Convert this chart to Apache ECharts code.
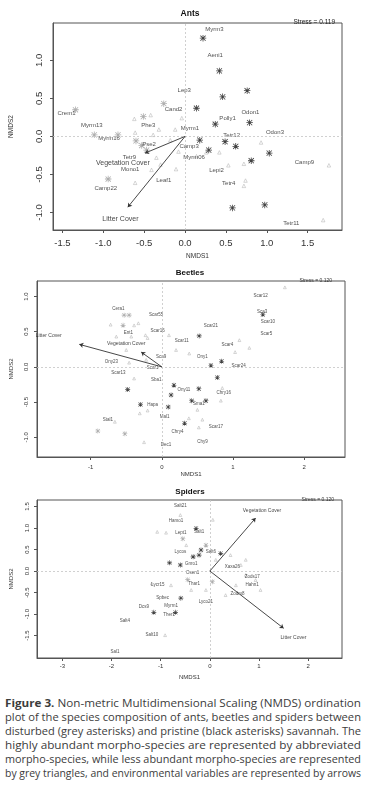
<!DOCTYPE html>
<html>
<head>
<meta charset="utf-8">
<script src="https://cdn.jsdelivr.net/npm/echarts@6/dist/echarts.min.js"></script>
<style>
html, body { margin: 0; padding: 0; background: #fff; }
#chart { position: absolute; left: 0; top: 0; width: 370px; height: 690px; }
#caption { position: absolute; left: 5px; top: 696px; width: 356px; font-family: 'Open Sans', sans-serif; font-size: 11px; line-height: 14.1px; color: #3c3c3c; }
#caption .ln { height: 14.1px; }
#caption span { display: inline-block; white-space: nowrap; transform-origin: 0 50%; }
</style>
</head>
<body>
<div id="chart"></div>
<div id="caption">
  <div class="ln"><span><b>Figure 3.</b> Non-metric Multidimensional Scaling (NMDS) ordination</span></div>
  <div class="ln"><span>plot of the species composition of ants, beetles and spiders between</span></div>
  <div class="ln"><span>disturbed (grey asterisks) and pristine (black asterisks) savannah. The</span></div>
  <div class="ln"><span>highly abundant morpho-species are represented by abbreviated</span></div>
  <div class="ln"><span>morpho-species, while less abundant morpho-species are represented</span></div>
  <div class="ln"><span>by grey triangles, and environmental variables are represented by arrows</span></div>
</div>
<script>
// ---------- Ants ----------
const antsPristine = [[0.22,1.29],[0.42,0.86],[0.46,0.52],[0.76,0.60],[0.14,0.37],[0.79,0.18],[0.37,0.16],
  [0.49,-0.07],[0.62,-0.13],[1.03,-0.22],[0.18,-0.05],[0.29,-0.18],[0.81,-0.32],[0.58,-0.94],[0.975,-0.90]];
const antsDisturbed = [[-1.34,0.35],[-0.26,0.43],[-0.51,0.26],[-1.11,0.02],[-0.82,0.02],[-0.94,-0.56],
  [-0.53,-0.12],[-0.47,-0.18],[-0.60,-0.06]];
const antsMinor = [[-0.62,0.23],[-0.42,0.28],[-0.61,0.05],[-0.39,0.02],[-0.12,0.09],[-0.08,-0.20],[-0.11,-0.43],
  [-0.61,-0.61],[0.93,-0.08],[0.53,-0.38],[0.72,-0.36],[0.74,-0.58],[0.72,-0.65],[1.76,-0.38],[1.69,-1.10],
  [0.42,-0.21],[0.26,-0.21],[0.14,-0.26],[-0.35,-0.28],[-0.30,-0.37],[-0.41,-0.44],[-0.04,0.24],[-0.18,-0.05],[-0.32,0.09]];
const antsSpecies = [['Myrm3',0.36,1.41],['Aeni1',0.37,1.06],['Lep3',-0.01,0.60],['Cand2',-0.14,0.35],
  ['Odon1',0.80,0.32],['Polly1',0.52,0.24],['Tetr12',0.57,0.01],['Odon3',1.10,0.05],['Myrm1',0.06,0.10],
  ['Camp3',0.05,-0.125],['Myrm06',0.11,-0.27],['Lepi2',0.385,-0.45],['Tetr4',0.535,-0.62],['Camp9',1.46,-0.34],
  ['Tetr11',1.30,-1.14],['Crem1',-1.45,0.305],['Myrm13',-1.14,0.15],['Phe3',-0.45,0.15],['Myrm16',-0.93,-0.03],
  ['Pse2',-0.44,-0.11],['Tetr9',-0.68,-0.27],['Mono1',-0.67,-0.43],['Leaf1',-0.26,-0.58],['Camp22',-0.97,-0.68]];
const antsEnv = [['Vegetation Cover',-0.49,-0.22,-0.76,-0.35],['Litter Cover',-0.70,-0.93,-0.79,-1.08]];

// ---------- Beetles ----------
const beetlesPristine = [[1.42,0.745],[0.525,0.44],[0.69,0.02],[0.84,0.08],[-0.48,-0.32],[0.17,-0.26],[0.13,-0.40],
  [-0.30,-0.535],[0.09,-0.57],[0.32,-0.80],[0.78,-0.15],[0.52,-0.31],[0.42,-0.48],[0.62,-0.48]];
const beetlesDisturbed = [[-0.53,0.735],[-0.545,0.59],[-0.90,-0.91],[-0.52,-0.95],[-0.46,0.735]];
const beetlesMinor = [[-0.72,0.60],[-0.39,0.59],[-0.33,0.62],[-0.64,0.43],[-0.43,0.43],[-0.23,0.45],[-0.20,0.41],
  [0.10,0.45],[1.73,1.13],[1.09,0.38],[1.23,0.27],[1.03,0.21],[0.385,0.19],[-0.46,0.06],[-0.39,-0.165],
  [-0.20,-0.62],[-0.31,-0.66],[-0.66,-0.78],[-0.25,-1.07],[0.85,-0.30],[0.83,-0.48],[0.50,-0.61],[0.38,-0.73],
  [0.52,-0.86],[0.57,-0.75],[0.20,0.24],[-0.50,0.24],[-0.22,0.10]];
const beetlesSpecies = [['Cera1',-0.61,0.83],['Scar55',-0.08,0.74],['Ent1',-0.47,0.48],['Scar16',-0.06,0.51],
  ['Scar12',1.39,1.01],['Sca3',1.41,0.79],['Scar10',1.49,0.64],['Scar5',1.47,0.475],['Scar21',0.69,0.58],
  ['Scar11',0.28,0.37],['Scar4',0.92,0.31],['Ony1',0.57,0.14],['Scar24',1.08,0.01],['Sca9',-0.01,0.14],
  ['Ony23',-0.71,0.07],['Scar1',-0.13,-0.01],['Scar13',-0.61,-0.09],['Sba1',-0.08,-0.19],['Ony11',0.31,-0.32],
  ['Chry16',0.87,-0.37],['Sma1',0.52,-0.52],['Hapa',-0.13,-0.535],['Mal1',0.04,-0.71],['Stal1',-0.76,-0.75],
  ['Scar17',0.76,-0.85],['Chry4',0.22,-0.92],['Chy9',0.57,-1.07],['Dec1',0.06,-1.11]];
const beetlesEnv = [['Litter Cover',-1.16,0.32,-1.59,0.44],['Vegetation Cover',-0.29,0.21,-0.50,0.33]];

// ---------- Spiders ----------
const spidersPristine = [[-0.82,0.19],[-0.60,0.14],[-0.59,-0.63],[-1.14,-0.96],[-0.70,-0.96],[-0.18,0.49],
  [-0.22,0.37],[0.22,0.41],[-0.34,0.33],[-0.28,0.99]];
const spidersDisturbed = [[-0.55,0.75],[-0.08,0.60],[-0.45,-0.20],[0.05,-0.25]];
const spidersMinor = [[-1.07,0.91],[-0.89,0.89],[-0.60,1.30],[-1.18,-0.29],[-0.91,-1.49],[0.63,0.14],[0.73,-0.09],
  [0.93,-0.21],[1.03,-0.44],[0.53,-0.33],[0.32,-0.56],[0.12,0.26],[-0.38,-0.44],[-0.48,0.60],[-0.79,-0.33],
  [0.42,0.37],[0.73,0.26],[-0.08,-0.44],[0.06,1.19]];
const spidersSpecies = [['Salt21',-0.60,1.51],['Hamo1',-0.69,1.17],['Lept1',-0.59,0.90],['Lycos',-0.60,0.45],
  ['Lycr15',-1.06,-0.33],['Spbec',-0.96,-0.61],['Dcs9',-1.34,-0.83],['Myrm1',-0.79,-0.81],['Salt1',-0.22,0.91],
  ['Salt6',0.02,0.45],['Gnro1',-0.38,0.18],['Osen1',-0.35,-0.05],['Xaxa26',0.46,0.09],['Zods17',0.86,-0.13],
  ['Hahn1',0.86,-0.33],['Thar1',-0.32,-0.29],['Zodm8',0.56,-0.52],['Lyco21',-0.08,-0.71],['Ther1',-0.83,-1.02],
  ['Salt4',-1.73,-1.16],['Salt10',-1.18,-1.47],['Sal1',-1.93,-1.88]];
const spidersEnv = [['Vegetation Cover',0.93,1.23,1.06,1.40],['Litter Cover',1.50,-1.33,1.70,-1.54]];

const ticksAnts = {x: [-1.5,-1,-0.5,0,0.5,1,1.5], y: [-1,-0.5,0,0.5,1]};
const ticksBeetles = {x: [-1,0,1,2], y: [-1,-0.5,0,0.5,1]};
const ticksSpiders = {x: [-3,-2,-1,0,1,2], y: [-1.5,-1,-0.5,0,0.5,1,1.5]};

const STAR = 'path://M4.4 0H5.6V10H4.4Z M0 4.4H10V5.6H0Z M1.42 0.58L9.42 8.58L8.58 9.42L0.58 1.42Z M8.58 0.58L9.42 1.42L1.42 9.42L0.58 8.58Z';
const FONT = 'Liberation Sans';

const panels = [
  {grid: {left: 36, top: 23, width: 306, height: 207}, xr: [-1.615, 1.92], yr: [-1.23, 1.49], ticks: ticksAnts,
   tickFs: 9.5, lab: 6.5, xMargin: 8, yMargin: 9, xGap: 23, yGap: 38, spFs: 6, envFs: 7, star: 6.5, tri: 3.5,
   pristine: antsPristine, disturbed: antsDisturbed, minor: antsMinor, species: antsSpecies, env: antsEnv},
  {grid: {left: 35, top: 281, width: 310, height: 176}, xr: [-1.755, 2.575], yr: [-1.28, 1.22], ticks: ticksBeetles,
   tickFs: 6, lab: 6, xMargin: 7, yMargin: 8, xGap: 14, yGap: 23, spFs: 4.5, envFs: 5, star: 5, tri: 2.8,
   pristine: beetlesPristine, disturbed: beetlesDisturbed, minor: beetlesMinor, species: beetlesSpecies, env: beetlesEnv},
  {grid: {left: 35, top: 500, width: 307, height: 158}, xr: [-3.515, 2.687], yr: [-2.02, 1.65], ticks: ticksSpiders,
   tickFs: 6, lab: 6, xMargin: 5, yMargin: 7, xGap: 16, yGap: 23, spFs: 4.5, envFs: 5, star: 5, tri: 2.8,
   pristine: spidersPristine, disturbed: spidersDisturbed, minor: spidersMinor, species: spidersSpecies, env: spidersEnv}
];

const chart = echarts.init(document.getElementById('chart'), null, {renderer: 'canvas'});

const grids = [], xAxes = [], yAxes = [], series = [];
panels.forEach((p, i) => {
  grids.push(Object.assign({show: true, borderColor: '#555', borderWidth: 1, backgroundColor: 'transparent'}, p.grid));
  const axisCommon = {
    type: 'value', gridIndex: i, splitLine: {show: false},
    axisLine: {show: true, onZero: false, lineStyle: {color: '#555', width: 1}},
    axisTick: {show: true, length: 3, lineStyle: {color: '#555'}},
    nameLocation: 'middle', nameTextStyle: {fontFamily: FONT, fontSize: p.lab, color: '#333'}
  };
  xAxes.push(Object.assign({}, axisCommon, {
    min: p.xr[0], max: p.xr[1], name: 'NMDS1', nameGap: p.xGap,
    axisTick: Object.assign({}, axisCommon.axisTick, {customValues: p.ticks.x}),
    axisLabel: {customValues: p.ticks.x, margin: p.xMargin, fontFamily: FONT, fontSize: p.tickFs, color: '#333',
      formatter: v => i === 0 ? v.toFixed(1) : String(v)}
  }));
  yAxes.push(Object.assign({}, axisCommon, {
    min: p.yr[0], max: p.yr[1], name: 'NMDS2', nameGap: p.yGap, nameRotate: 90,
    axisTick: Object.assign({}, axisCommon.axisTick, {customValues: p.ticks.y}),
    axisLabel: {customValues: p.ticks.y, rotate: 90, margin: p.yMargin, fontFamily: FONT, fontSize: p.tickFs, color: '#333',
      formatter: v => v.toFixed(1)}
  }));
  series.push({
    type: 'scatter', xAxisIndex: i, yAxisIndex: i, symbol: 'triangle', symbolSize: p.tri,
    itemStyle: {color: 'rgba(0,0,0,0)', borderColor: '#a8a8a8', borderWidth: 0.6}, data: p.minor, silent: true,
    markLine: {silent: true, symbol: 'none', label: {show: false}, animation: false,
      lineStyle: {color: '#c4c4c4', type: [2, 2], width: 0.8}, data: [{xAxis: 0}, {yAxis: 0}]}
  });
  series.push({type: 'scatter', xAxisIndex: i, yAxisIndex: i, symbol: STAR, symbolSize: p.star,
    itemStyle: {color: '#9a9a9a'}, data: p.disturbed, silent: true});
  series.push({type: 'scatter', xAxisIndex: i, yAxisIndex: i, symbol: STAR, symbolSize: p.star,
    itemStyle: {color: '#111'}, data: p.pristine, silent: true});
  series.push({type: 'scatter', xAxisIndex: i, yAxisIndex: i, symbolSize: 0, silent: true,
    data: p.species.map(d => ({name: d[0], value: [d[1], d[2]]})),
    label: {show: true, position: 'inside', formatter: '{b}', fontFamily: FONT, fontSize: p.spFs, color: '#222'}});
  series.push({type: 'scatter', xAxisIndex: i, yAxisIndex: i, symbolSize: 0, silent: true,
    data: p.env.map(d => ({name: d[0], value: [d[3], d[4]]})),
    label: {show: true, position: 'inside', formatter: '{b}', fontFamily: FONT, fontSize: p.envFs, color: '#111'},
    markLine: {silent: true, animation: false, symbol: ['none', 'arrow'], symbolSize: 4, label: {show: false},
      lineStyle: {color: '#333', type: 'solid', width: 0.9},
      data: p.env.map(d => [{coord: [0, 0]}, {coord: [d[1], d[2]]}])}
  });
});

chart.setOption({
  animation: false,
  title: [
    {text: 'Ants', left: 185, top: 4, textAlign: 'center', textStyle: {fontFamily: FONT, fontSize: 8.5, fontWeight: 'bold', color: '#111'}},
    {text: 'Stress = 0.119', right: 30, top: 14, textStyle: {fontFamily: FONT, fontSize: 6.5, fontWeight: 'normal', color: '#222'}},
    {text: 'Beetles', left: 185, top: 264, textAlign: 'center', textStyle: {fontFamily: FONT, fontSize: 8, fontWeight: 'bold', color: '#111'}},
    {text: 'Stress = 0.120', right: 33, top: 273, textStyle: {fontFamily: FONT, fontSize: 5, fontWeight: 'normal', color: '#333'}},
    {text: 'Spiders', left: 185, top: 483, textAlign: 'center', textStyle: {fontFamily: FONT, fontSize: 8, fontWeight: 'bold', color: '#111'}},
    {text: 'Stress = 0.120', right: 31, top: 492, textStyle: {fontFamily: FONT, fontSize: 5, fontWeight: 'normal', color: '#333'}}
  ],
  grid: grids, xAxis: xAxes, yAxis: yAxes, series: series
});

// fit each caption line to the full justified width
document.querySelectorAll('#caption span').forEach(s => {
  const w = s.getBoundingClientRect().width;
  s.style.transform = 'scaleX(' + (356 / w) + ')';
});
</script>
</body>
</html>
